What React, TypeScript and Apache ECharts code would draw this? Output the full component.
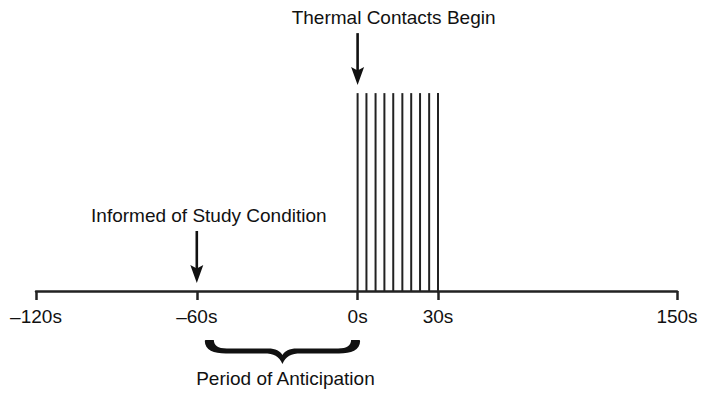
import React, { useEffect, useRef } from 'react';
import * as echarts from 'echarts';

// Axis tick values (seconds)
const nearTicks = [-120, -60, 0, 30];
const farTicks = [150];
// Thermal contact onsets (seconds) and their bar height (relative units)
const contactTimes = [0, 3.3, 6.7, 10, 13.3, 16.7, 20, 23.3, 26.7, 30];
const contactLevels = [68, 68, 68, 68, 68, 68, 68, 68, 68, 68];
// Events marked with arrows
const eventTimes = [-60, 0];
const eventTargets = [0, 68];
const eventLabels = ['Informed of Study Condition', 'Thermal Contacts Begin'];
// Anticipation period
const periodBounds = [-60, 0];
const periodLabel = 'Period of Anticipation';

const FONT = '"Liberation Sans", Arial, Helvetica, sans-serif';
const INK = '#111';

const BRACE_D =
  'M0,1 Q0,0 1,0 L9,0 C9,5 13,8.5 22,8.5 L63,8.5 C71,8.5 75,11 77.5,15 C80,11 84,8.5 92,8.5 L133,8.5 C142,8.5 146,5 146,0 L154,0 Q155,0 155,1 C155,10 146,13.5 134,13.5 L96,13.5 C86,13.5 81,16 77.5,24 C74,16 69,13.5 59,13.5 L21,13.5 C9,13.5 0,10 0,1 Z';

let braceRegistered = false;
function ensureBrace() {
  if (braceRegistered) return;
  echarts.graphic.registerShape('brace', echarts.graphic.extendPath(BRACE_D, {}) as any);
  braceRegistered = true;
}

const fmt = (v: number) => (v < 0 ? '\u2013' + Math.abs(v) : String(v)) + 's';

function makeXAxis(gridIndex: number, min: number, max: number, ticks: number[]) {
  return {
    type: 'value',
    gridIndex,
    min,
    max,
    axisLine: { show: true, onZero: false, lineStyle: { color: '#222', width: 2.5 } },
    axisTick: { show: true, customValues: ticks, length: 9, inside: false, lineStyle: { color: '#222', width: 2.5 } },
    axisLabel: {
      show: true,
      customValues: ticks,
      formatter: fmt,
      fontSize: 19,
      color: INK,
      fontFamily: FONT,
      margin: 16,
    },
    splitLine: { show: false },
  };
}

export default function App() {
  const ref = useRef<HTMLDivElement>(null);

  useEffect(() => {
    if (!ref.current) return;
    ensureBrace();
    const chart = echarts.init(ref.current, undefined, { renderer: 'svg' });
    const option: any = {
      animation: false,
      backgroundColor: '#fff',
      grid: [
        { left: 36, width: 402, top: 0, height: 291 },
        { left: 438, width: 239, top: 0, height: 291 },
      ],
      xAxis: [makeXAxis(0, -120, 30, nearTicks), makeXAxis(1, 30, 150, farTicks)],
      yAxis: [
        { type: 'value', gridIndex: 0, min: 0, max: 100, show: false },
        { type: 'value', gridIndex: 1, min: 0, max: 100, show: false },
      ],
      series: [
        {
          type: 'bar',
          xAxisIndex: 0,
          yAxisIndex: 0,
          barWidth: 2,
          clip: false,
          itemStyle: { color: '#222' },
          data: contactTimes.map((t, i) => [t, contactLevels[i]]),
        },
      ],
    };
    chart.setOption(option);

    const px = (t: number) => chart.convertToPixel({ xAxisIndex: 0 } as any, t) as unknown as number;
    const py = (v: number) => chart.convertToPixel({ yAxisIndex: 0 } as any, v) as unknown as number;

    const graphics: any[] = [];
    const labelDx = [12, 36];
    eventTimes.forEach((t, i) => {
      const x = px(t);
      const tip = py(eventTargets[i]) - 8;
      const top = tip - 52;
      graphics.push({
        type: 'line',
        shape: { x1: x, y1: top, x2: x, y2: tip - 12 },
        style: { stroke: INK, lineWidth: 2.6 },
      });
      graphics.push({
        type: 'polygon',
        shape: { points: [[x, tip], [x - 6.5, tip - 18], [x, tip - 14.5], [x + 6.5, tip - 18]] },
        style: { fill: INK },
      });
      graphics.push({
        type: 'text',
        style: {
          text: eventLabels[i],
          x: x + labelDx[i],
          y: tip - 68,
          align: 'center',
          verticalAlign: 'middle',
          fontSize: 19,
          fontFamily: FONT,
          fill: INK,
        },
      });
    });

    const bx0 = px(periodBounds[0]) + 8;
    const bx1 = px(periodBounds[1]) + 2.5;
    const axisY = py(0);
    graphics.push({
      type: 'brace',
      x: bx0,
      y: axisY + 49,
      scaleX: (bx1 - bx0) / 155,
      scaleY: 1,
      style: { fill: INK },
    });
    graphics.push({
      type: 'text',
      style: {
        text: periodLabel,
        x: (bx0 + bx1) / 2 + 3,
        y: axisY + 87,
        align: 'center',
        verticalAlign: 'middle',
        fontSize: 19,
        fontFamily: FONT,
        fill: INK,
      },
    });

    chart.setOption({ graphic: graphics });

    return () => chart.dispose();
  }, []);

  return (
    <div
      ref={ref}
      style={{ position: 'fixed', left: 0, top: 0, width: 710, height: 407, background: '#fff' }}
    />
  );
}
